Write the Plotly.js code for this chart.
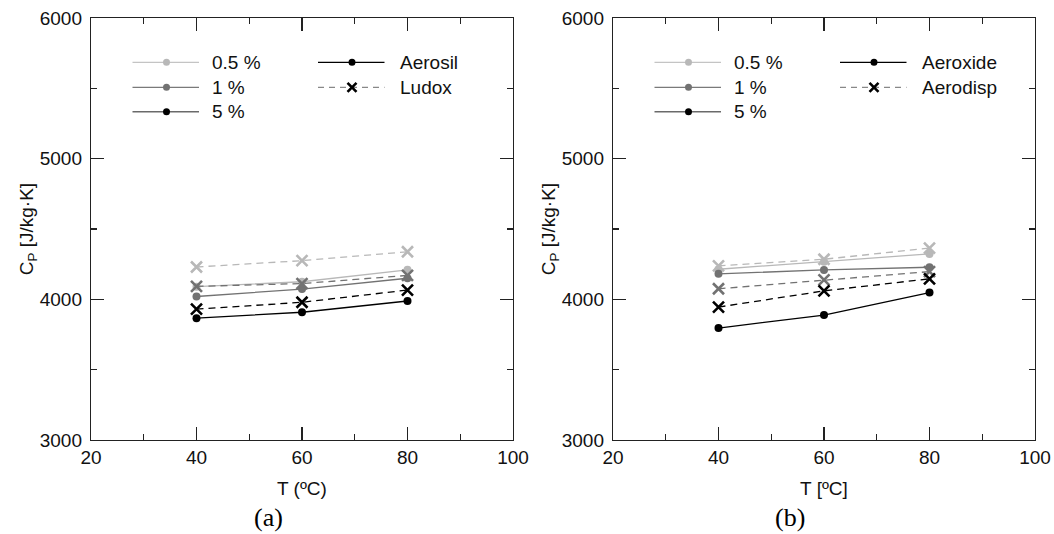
<!DOCTYPE html>
<html><head><meta charset="utf-8">
<script src="https://cdn.plot.ly/plotly-3.0.1.min.js"></script>
<style>html,body{margin:0;padding:0;background:#fff}#chart{width:1054px;height:534px}</style>
</head><body><div id="chart"></div>
<script>
// ---- data ----
const temps = [40, 60, 80];
// panel (a)
const aerosil05 = [4090, 4125, 4210];
const aerosil1  = [4020, 4073, 4150];
const aerosil5  = [3866, 3908, 3988];
const ludox05   = [4230, 4275, 4338];
const ludox1    = [4092, 4112, 4170];
const ludox5    = [3930, 3979, 4066];
// panel (b)
const aeroxide05 = [4214, 4268, 4323];
const aeroxide1  = [4181, 4209, 4228];
const aeroxide5  = [3796, 3888, 4048];
const aerodisp05 = [4238, 4285, 4364];
const aerodisp1  = [4075, 4138, 4197];
const aerodisp5  = [3945, 4060, 4146];

const concLabels = ['0.5 %', '1 %', '5 %'];
const typeLabelsA = ['Aerosil', 'Ludox'];
const typeLabelsB = ['Aeroxide', 'Aerodisp'];
const xTitles = ['T (ºC)', 'T [ºC]'];
const yTitle = 'C<sub>P</sub> [J/kg·K]';
const panelLabels = ['(a)', '(b)'];

// ---- styling / layout ----
const W = 1054, H = 534;
const FONT = 'Arial';
const FS = 19;
const concColors = ['#b8b8b8', '#727272', '#000000'];
const legendLineColors = ['#c4c4c4', '#7a7a7a', '#6a6a6a'];
const DASH = '7px,5px';
const px = v => v / W, py = v => 1 - v / H;

const panels = [
  {x0: 91, x1: 513, solid: [aerosil05, aerosil1, aerosil5], dashed: [ludox05, ludox1, ludox5], types: typeLabelsA},
  {x0: 613, x1: 1035, solid: [aeroxide05, aeroxide1, aeroxide5], dashed: [aerodisp05, aerodisp1, aerodisp5], types: typeLabelsB}
];
const yTop = 18, yBot = 440;

const traces = [];
const annotations = [];
const layout = {
  width: W, height: H, margin: {l: 0, r: 0, t: 0, b: 0},
  paper_bgcolor: '#fff', plot_bgcolor: 'rgba(0,0,0,0)',
  showlegend: false, font: {family: FONT, size: FS, color: '#111'},
  annotations: annotations
};

function axisCommon() {
  return {
    ticks: 'inside', tickcolor: '#222', tickwidth: 1.2, showline: true, linecolor: '#222', linewidth: 1.2,
    mirror: 'ticks', showgrid: false, zeroline: false, fixedrange: true,
    tickfont: {family: FONT, size: FS, color: '#111'}
  };
}

panels.forEach((p, i) => {
  const xa = i === 0 ? 'x' : 'x2', ya = i === 0 ? 'y' : 'y2';
  const xk = i === 0 ? 'xaxis' : 'xaxis2', yk = i === 0 ? 'yaxis' : 'yaxis2';
  layout[xk] = Object.assign(axisCommon(), {
    domain: [px(p.x0), px(p.x1)], anchor: ya, range: [20, 100], tick0: 20, dtick: 20, ticklen: 13,
    minor: {ticks: 'inside', dtick: 10, tick0: 20, ticklen: 6, tickwidth: 1.2, tickcolor: '#222', showgrid: false},
    title: {text: xTitles[i], font: {family: FONT, size: FS, color: '#111'}, standoff: 14}
  });
  layout[yk] = Object.assign(axisCommon(), {
    domain: [py(yBot), py(yTop)], anchor: xa, range: [3000, 6000], tick0: 3000, dtick: 1000, ticklen: 13,
    minor: {ticks: 'inside', dtick: 500, tick0: 3000, ticklen: 6, tickwidth: 1.2, tickcolor: '#222', showgrid: false},
    ticklabelstandoff: 4,
    title: {text: yTitle, font: {family: FONT, size: FS, color: '#111'}, standoff: 1}
  });
  // data traces
  for (let c = 0; c < 3; c++) {
    traces.push({
      x: temps, y: p.solid[c], xaxis: xa, yaxis: ya, mode: 'lines+markers', cliponaxis: false,
      line: {color: concColors[c], width: 1.3},
      marker: {symbol: 'circle', size: 8, color: concColors[c]}
    });
    traces.push({
      x: temps, y: p.dashed[c], xaxis: xa, yaxis: ya, mode: 'lines+markers', cliponaxis: false,
      line: {color: concColors[c], width: 1.3, dash: DASH},
      marker: {symbol: 'x-thin-open', size: 11, color: concColors[c], line: {color: concColors[c], width: 2.6}}
    });
  }
  // custom legend drawn on an overlay pixel axis
  const rows = [62.3, 87.3, 111.7];
  const c1 = p.x0 + 41.5, c2 = p.x0 + 227;
  const lineLen = 66.5;
  for (let c = 0; c < 3; c++) {
    traces.push({x: [c1, c1 + lineLen], y: [rows[c], rows[c]], xaxis: 'x3', yaxis: 'y3', mode: 'lines',
      line: {color: legendLineColors[c], width: c === 2 ? 1.5 : 1.2}, hoverinfo: 'skip'});
    traces.push({x: [c1 + 34], y: [rows[c]], xaxis: 'x3', yaxis: 'y3', mode: 'markers',
      marker: {symbol: 'circle', size: 7, color: concColors[c]}, hoverinfo: 'skip'});
    annotations.push({xref: 'paper', yref: 'paper', x: px(c1 + lineLen + 11), y: py(rows[c]),
      xanchor: 'left', yanchor: 'middle', showarrow: false, text: concLabels[c],
      font: {family: FONT, size: FS, color: '#111'}});
  }
  // type legend
  traces.push({x: [c2, c2 + lineLen], y: [rows[0], rows[0]], xaxis: 'x3', yaxis: 'y3', mode: 'lines',
    line: {color: '#000', width: 1.2}, hoverinfo: 'skip'});
  traces.push({x: [c2 + 34], y: [rows[0]], xaxis: 'x3', yaxis: 'y3', mode: 'markers',
    marker: {symbol: 'circle', size: 7, color: '#000'}, hoverinfo: 'skip'});
  traces.push({x: [c2, c2 + lineLen], y: [rows[1], rows[1]], xaxis: 'x3', yaxis: 'y3', mode: 'lines',
    line: {color: '#888', width: 1.2, dash: '6px,5px'}, hoverinfo: 'skip'});
  traces.push({x: [c2 + 34], y: [rows[1]], xaxis: 'x3', yaxis: 'y3', mode: 'markers',
    marker: {symbol: 'x-thin-open', size: 9, color: '#000', line: {color: '#000', width: 2.6}}, hoverinfo: 'skip'});
  for (let t = 0; t < 2; t++) {
    annotations.push({xref: 'paper', yref: 'paper', x: px(c2 + lineLen + 13), y: py(rows[t]),
      xanchor: 'left', yanchor: 'middle', showarrow: false, text: p.types[t],
      font: {family: FONT, size: FS, color: '#111'}});
  }
  // panel label
  annotations.push({xref: 'paper', yref: 'paper', x: px((p.x0 + p.x1) / 2 - 34), y: py(517),
    xanchor: 'center', yanchor: 'middle', showarrow: false, text: panelLabels[i],
    font: {family: 'Times New Roman', size: 26, color: '#000'}});
});

layout.xaxis3 = {domain: [0, 1], range: [0, W], visible: false, fixedrange: true, anchor: 'y3'};
layout.yaxis3 = {domain: [0, 1], range: [H, 0], visible: false, fixedrange: true, anchor: 'x3'};

Plotly.newPlot('chart', traces, layout, {staticPlot: true, displayModeBar: false});
</script>
</body></html>
